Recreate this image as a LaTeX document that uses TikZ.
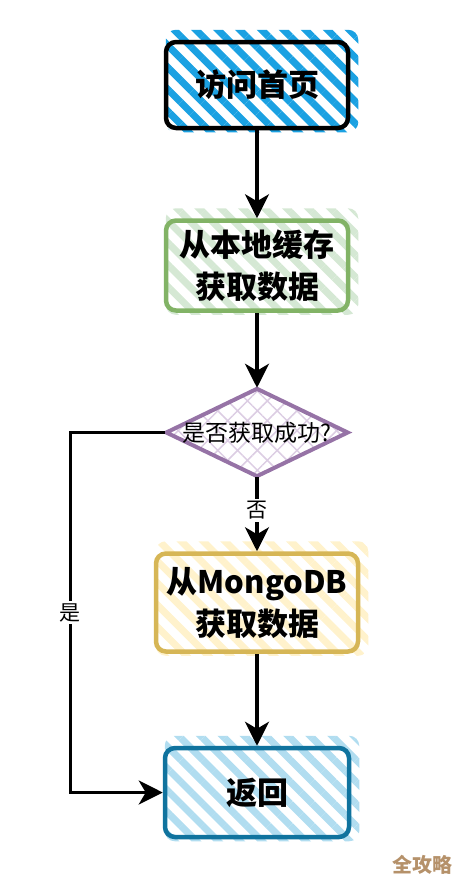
\documentclass[tikz,border=0pt]{standalone}
\usepackage{fontspec}
\newfontfamily\cjk{Noto Sans CJK SC}
\usetikzlibrary{arrows.meta,positioning,shapes.geometric,patterns.meta,backgrounds}

\definecolor{stripeblue}{HTML}{1BA1E2}
\definecolor{greenline}{HTML}{82B366}
\definecolor{stripegreen}{HTML}{D5E8D4}
\definecolor{purpleline}{HTML}{9673A6}
\definecolor{stripepurple}{HTML}{DCCDE3}
\definecolor{yellowline}{HTML}{D6B656}
\definecolor{stripeyellow}{HTML}{FFF2CC}
\definecolor{blueline}{HTML}{10739E}
\definecolor{stripelblue}{HTML}{B1DDF0}
\definecolor{marktan}{HTML}{B5916A}

\begin{document}
\begin{tikzpicture}[x=1pt, y=1pt, font=\cjk]
    \tikzstyle{process} = [rectangle, rounded corners=10pt, line width=4.5pt, align=center, font=\cjk\bfseries\fontsize{31}{42}\selectfont]
    \tikzstyle{decision} = [diamond, line width=4pt, draw=purpleline, minimum width=182pt, minimum height=88pt, inner sep=0pt, pattern={Hatch[angle=45,distance=14pt,line width=1.5pt]}, pattern color=stripepurple, font=\cjk\fontsize{23}{28}\selectfont]
    \tikzstyle{flow} = [line width=3.5pt, -{Stealth[length=24pt,width=24pt,inset=7pt]}]
    \tikzstyle{answer} = [fill=white, inner sep=2pt, font=\cjk\fontsize{21}{24}\selectfont]

    \useasboundingbox (0,0) rectangle (458,-886);

    % Steps
    \node [process, draw=black, minimum width=182pt, minimum height=86pt] (visit) at (257,-85) {访问首页};
    \node [process, draw=greenline, minimum width=182pt, minimum height=90pt, below=88pt of visit] (cache) {从本地缓存\\获取数据};
    \node [decision, below=75pt of cache] (check) {\makebox[0pt]{是否获取成功?}};
    \node [process, draw=yellowline, minimum width=202pt, minimum height=98pt, below=74pt of check] (mongo) {从MongoDB\\获取数据};
    \node [process, draw=blueline, minimum width=184pt, minimum height=89pt, below=92pt of mongo] (result) {返回};

    % Hatching
    \begin{scope}[on background layer]
        \foreach \n/\c in {visit/stripeblue, cache/stripegreen, mongo/stripeyellow, result/stripelblue}
            \path [rounded corners=10pt, pattern={Lines[angle=-45,distance=15.5pt,line width=7pt]}, pattern color=\c]
                ([shift={(2pt,-2pt)}]\n.south west) rectangle ([shift={(8pt,10pt)}]\n.north east);
    \end{scope}

    % Connections
    \draw [flow] (visit) -- (cache);
    \draw [flow] (cache) -- (check);
    \draw [flow] (check) -- node[answer, pos=0.45] {否} (mongo);
    \draw [flow] (mongo) -- (result);
    \draw [flow] (check.west) -- ++(-95,0) |- node[answer, pos=0.25] {是} (result.west);

    % Watermark
    \node [text=marktan, font=\cjk\bfseries\fontsize{20}{24}\selectfont] (mark) at (422,-865) {全攻略};
\end{tikzpicture}
\end{document}
